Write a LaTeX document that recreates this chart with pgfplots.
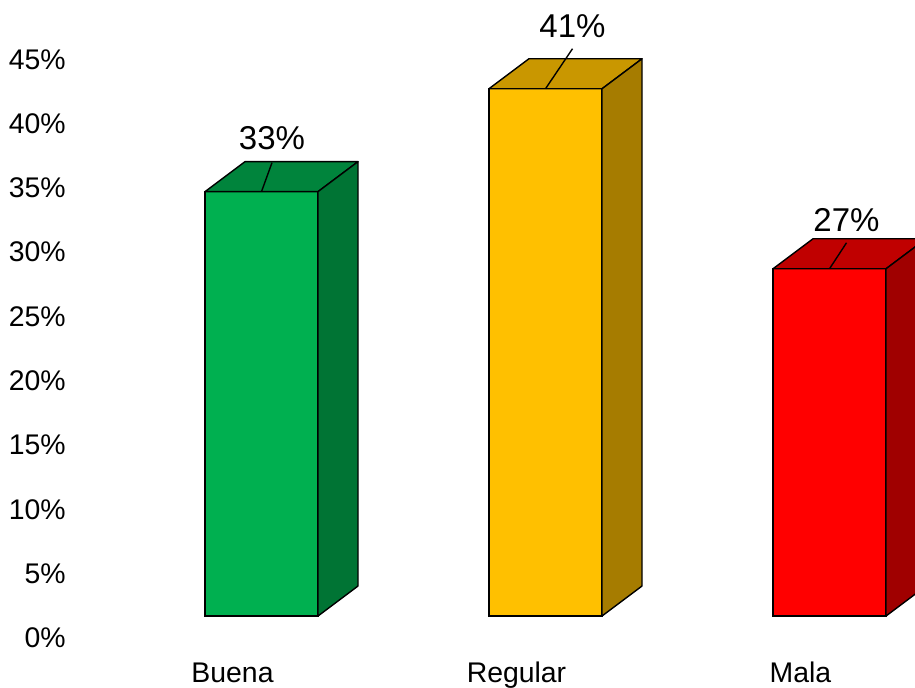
\documentclass[border=0pt]{standalone}
\usepackage{pgfplots}
\pgfplotsset{compat=1.18}
\usepackage{fontspec}
\setmainfont{Liberation Sans}

\definecolor{gfront}{HTML}{00B050}
\definecolor{gtop}{HTML}{00843C}
\definecolor{gside}{HTML}{007434}
\definecolor{yfront}{HTML}{FFC000}
\definecolor{ytop}{HTML}{C99700}
\definecolor{yside}{HTML}{A67C00}
\definecolor{rfront}{HTML}{FF0000}
\definecolor{rtop}{HTML}{C00000}
\definecolor{rside}{HTML}{A00000}

% top and side faces of a 3D bar, drawn at the bar's front-top centre
% #1 top colour, #2 side colour, #3/#4 leader end, #5 label, #6 label baseline
\pgfplotsset{
  cube/.style n args={6}{
    only marks, scatter, mark=*, mark size=0pt,
    mark options={draw=none, fill=none},
    visualization depends on={y \as \val},
    scatter/@pre marker code/.code={
      \filldraw[fill=#1, draw=black, line width=0.7pt, line join=round]
        (-28.25pt,0pt) -- (28.25pt,0pt) -- (48.25pt,15pt) -- (-8.25pt,15pt) -- cycle;
      \filldraw[fill=#2, draw=black, line width=0.7pt, line join=round]
        (28.25pt,0pt) -- (48.25pt,15pt) -- (48.25pt,{15pt-\val*6.43pt})
        -- (28.25pt,{-\val*6.43pt}) -- cycle;
      \draw[black, line width=0.7pt] (0pt,0pt) -- (#3pt,#4pt);
      \node[anchor=base, inner sep=0pt, text=black,
        font=\fontsize{16.5}{19}\selectfont] at (#3pt,#6pt) {#5};
    },
    scatter/@post marker code/.code={},
  },
  front/.style={ybar, bar width=56.5pt, bar shift=0pt, fill=#1,
    draw=black, line width=0.7pt},
}

\begin{document}
\begin{tikzpicture}
\begin{axis}[
  at={(0,0)}, anchor=south west,
  x=142pt, y=6.43pt,
  xmin=-0.6743, xmax=2.3011, ymin=0, ymax=49.6,
  axis line style={draw=none}, major tick length=0pt,
  xtick={0,1,2}, xticklabels={Buena,Regular,Mala},
  xticklabel style={anchor=base, inner sep=0pt, xshift=-14.5pt, yshift=-22pt},
  ytick={0,5,...,45},
  yticklabels={0\%,5\%,10\%,15\%,20\%,25\%,30\%,35\%,40\%,45\%},
  yticklabel style={anchor=east, inner sep=0pt, xshift=-2pt},
  tick label style={font=\fontsize{14.2}{16}\selectfont},
]
\end{axis}
\begin{axis}[
  at={(0,0)}, anchor=south west,
  x=142pt, y=6.43pt,
  xmin=-0.6743, xmax=2.3011, ymin=-1.71, ymax=47.89,
  hide axis, clip marker paths=true,
]
\addplot[front=gfront] coordinates {(0,33)};
\addplot[front=yfront] coordinates {(1,41)};
\addplot[front=rfront] coordinates {(2,27)};
\addplot[cube={gtop}{gside}{5.25}{14.5}{33\%}{21}] coordinates {(0,33)};
\addplot[cube={ytop}{yside}{13.5}{20}{41\%}{25.5}] coordinates {(1,41)};
\addplot[cube={rtop}{rside}{8.5}{13}{27\%}{18.5}] coordinates {(2,27)};
\end{axis}
\pgfresetboundingbox
\path (-35pt,-24.5pt) rectangle (422.5pt,319pt);
\end{tikzpicture}
\end{document}
